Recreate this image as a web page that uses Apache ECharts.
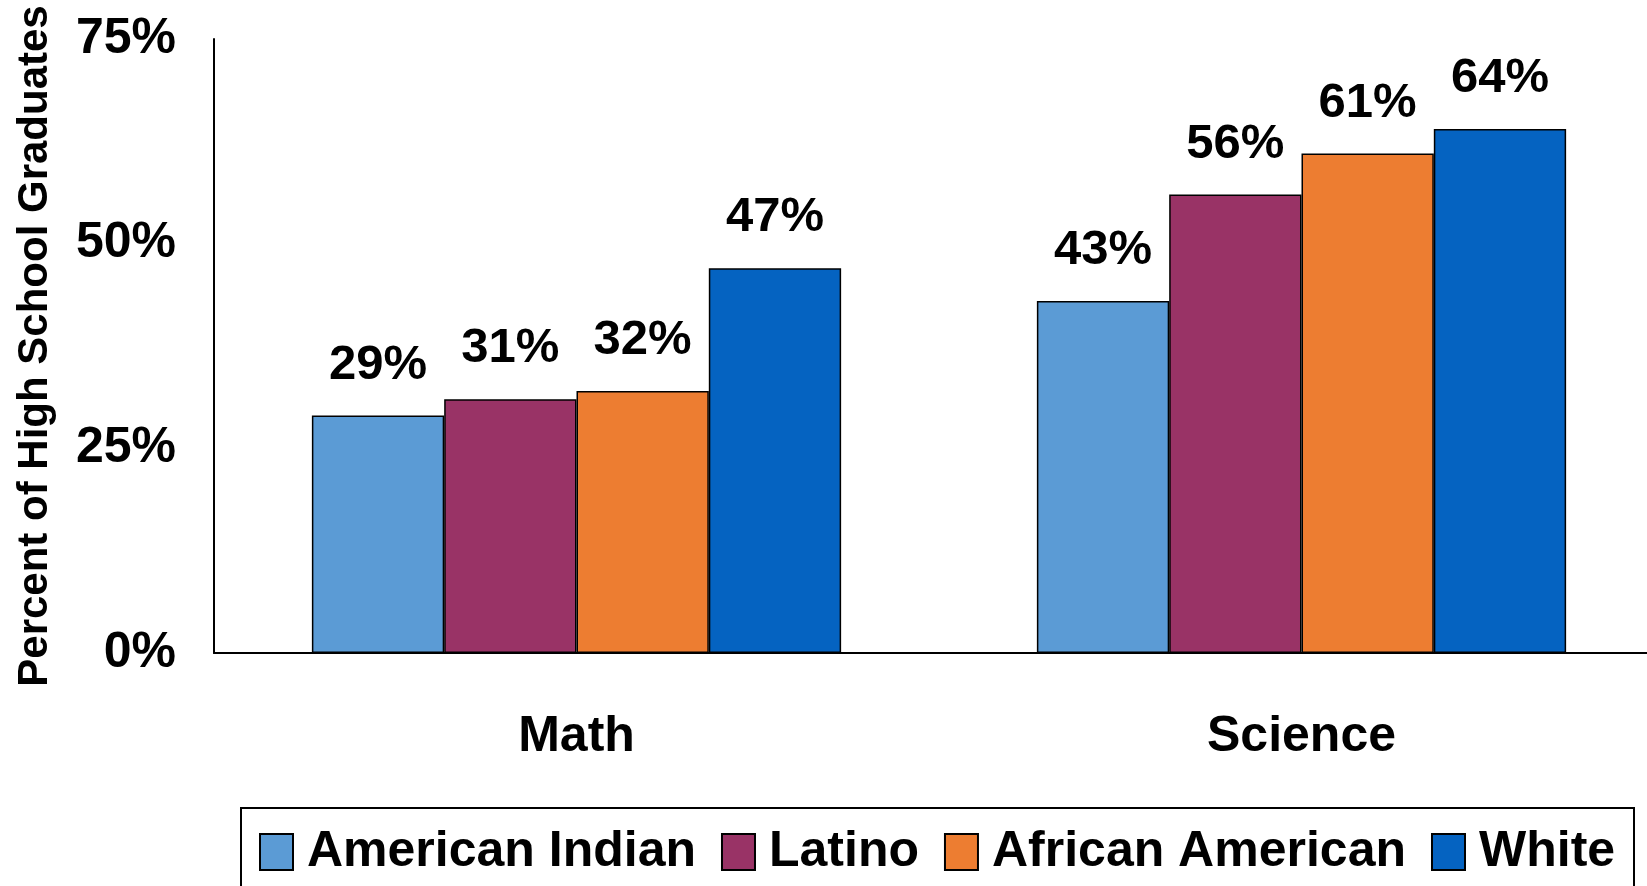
<!DOCTYPE html>
<html>
<head>
<meta charset="utf-8">
<script src="https://cdn.jsdelivr.net/npm/echarts@6/dist/echarts.min.js"></script>
<style>
html,body{margin:0;padding:0;background:#fff;}
#chart{width:1647px;height:886px;}
</style>
</head>
<body>
<div id="chart"></div>
<script>
const categories = ['Math', 'Science'];
const seriesNames = ['American Indian', 'Latino', 'African American', 'White'];
const americanIndian = [29, 43];
const latino = [31, 56];
const africanAmerican = [32, 61];
const white = [47, 64];
const yTicks = [0, 25, 50, 75];
const colors = ['#5B9BD5', '#993366', '#ED7D31', '#0563C1'];
const seriesValues = [americanIndian, latino, africanAmerican, white];

const FONT = '"Liberation Sans", Arial, sans-serif';
const chart = echarts.init(document.getElementById('chart'));

chart.setOption({
  animation: false,
  backgroundColor: '#fff',
  grid: { left: 214, top: 39, bottom: 233, width: 1450, containLabel: false, outerBoundsMode: 'none' },
  graphic: [{
    type: 'rect',
    shape: { x: 241, y: 808, width: 1393, height: 100 },
    style: { fill: 'none', stroke: '#000', lineWidth: 2 },
    silent: true
  }],
  legend: {
    data: seriesNames,
    left: 254,
    top: 822,
    itemWidth: 33,
    itemHeight: 36,
    itemGap: 25,
    icon: 'rect',
    itemStyle: { borderColor: '#000', borderWidth: 2 },
    textStyle: { fontFamily: FONT, fontWeight: 'bold', fontSize: 50, color: '#000', padding: [0, 0, 0, 9] }
  },
  xAxis: {
    type: 'category',
    data: categories,
    axisLine: { lineStyle: { color: '#000', width: 2 } },
    axisTick: { show: false },
    axisLabel: { fontFamily: FONT, fontWeight: 'bold', fontSize: 50, color: '#000', margin: 59 }
  },
  yAxis: {
    type: 'value',
    min: 0,
    max: 75,
    interval: 25,
    name: 'Percent of High School Graduates',
    nameLocation: 'middle',
    nameRotate: 90,
    nameGap: 158,
    nameTextStyle: { fontFamily: FONT, fontWeight: 'bold', fontSize: 42, color: '#000' },
    axisLine: { show: true, lineStyle: { color: '#000', width: 2 } },
    axisTick: { show: false },
    splitLine: { show: false },
    axisLabel: {
      fontFamily: FONT, fontWeight: 'bold', fontSize: 50, color: '#000', margin: 38,
      formatter: function (v) { return yTicks.indexOf(v) >= 0 ? v + '%' : ''; }
    }
  },
  series: seriesNames.map(function (name, i) {
    return {
      name: name,
      type: 'bar',
      data: seriesValues[i],
      barGap: '0%',
      barCategoryGap: '27%',
      itemStyle: { color: colors[i], borderColor: '#000', borderWidth: 1.5 },
      label: {
        show: true,
        position: 'top',
        distance: 26,
        formatter: '{c}%',
        fontFamily: FONT, fontWeight: 'bold', fontSize: 49, color: '#000'
      }
    };
  })
});
</script>
</body>
</html>
